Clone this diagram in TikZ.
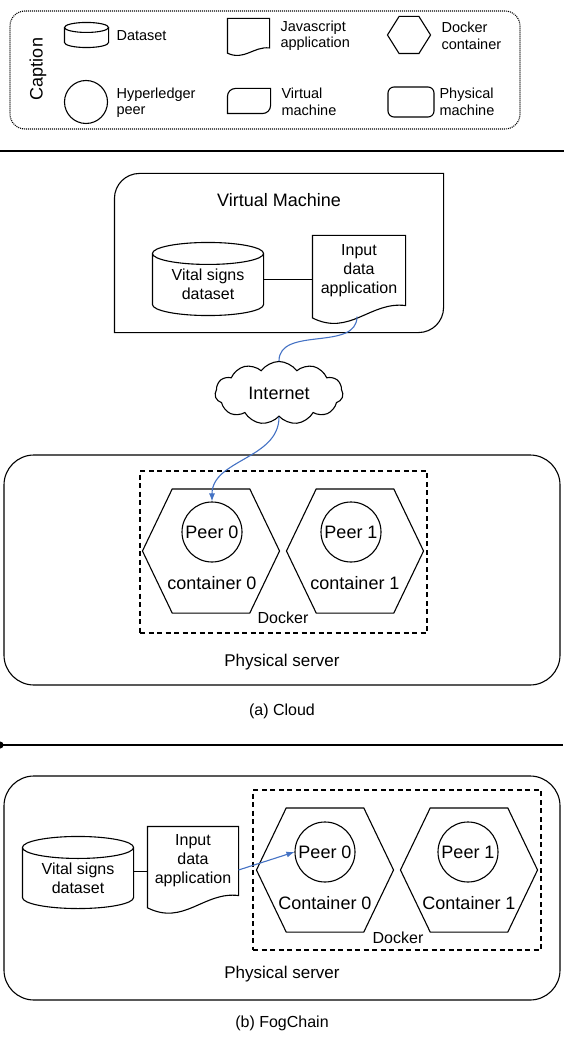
\documentclass[tikz,border=0pt]{standalone}
\usepackage{fontspec}
\setmainfont{Liberation Sans}
\usepackage{tikz}
\usetikzlibrary{calc}
\usetikzlibrary{arrows.meta}
\tikzset{>={Latex[length=8pt,width=6pt]}}
\usetikzlibrary{shapes.symbols}

\definecolor{linkblue}{RGB}{68,114,196}
\tikzset{
  txt/.style={font=\fontsize{16}{19}\selectfont, align=center},
  bigtxt/.style={font=\fontsize{18}{21}\selectfont, align=center},
  keytxt/.style={font=\fontsize{14.5}{16.5}\selectfont, align=left, anchor=west, inner sep=0pt},
  peer/.style={circle, draw, inner sep=0pt, minimum size=60pt, bigtxt},
  hexbox/.style={inner sep=0pt, minimum width=136pt, minimum height=123pt},
  server/.style={draw, rounded corners=30pt, minimum width=556pt},
  docker/.style={draw, dash pattern=on 5pt off 3.5pt},
  link/.style={draw=linkblue, line width=1.1pt},
}

\newcommand{\dbshape}[2]{%
  \draw let \p1=(#1.south west), \p2=(#1.north east), \n1={(\x2-\x1)/2} in
    (\x1,\y2) arc[start angle=180,end angle=360,x radius=\n1,y radius=#2]
    arc[start angle=0,end angle=180,x radius=\n1,y radius=#2]
    -- (\x1,\y1+#2) arc[start angle=180,end angle=360,x radius=\n1,y radius=#2] -- (\x2,\y2);}
\newcommand{\appshape}[1]{%
  \draw let \p1=(#1.south west), \p2=(#1.north east), \n1={\x2-\x1}, \n2={\y2-\y1} in
    (\x1,\y1-0.177*\n2) -- (\x1,\y2) -- (\x2,\y2) -- (\x2,\y1)
    .. controls (\x1+0.62*\n1,\y1+0.063*\n2) and (\x1+0.40*\n1,\y1-0.443*\n2) .. (\x1,\y1-0.177*\n2) -- cycle;}
\newcommand{\vmshape}[2]{%
  \draw let \p1=(#1.south west), \p2=(#1.north east) in
    (\x1,\y1) -- (\x1,\y2-#2) arc[start angle=180,end angle=90,radius=#2] -- (\x2,\y2)
    -- (\x2,\y1+#2) arc[start angle=0,end angle=-90,radius=#2] -- cycle;}
\newcommand{\hexshape}[2]{%
  \draw let \p1=(#1.south west), \p2=(#1.north east), \n1={#2*(\x2-\x1)} in
    (\x1,{(\y1+\y2)/2}) -- (\x1+\n1,\y2) -- (\x2-\n1,\y2) -- (\x2,{(\y1+\y2)/2})
    -- (\x2-\n1,\y1) -- (\x1+\n1,\y1) -- cycle;}

\begin{document}
\begin{tikzpicture}[x=1pt,y=-1pt,line width=1.1pt]
\useasboundingbox (0,0) rectangle (564,1040);

\node[draw, dash pattern=on 1pt off 1pt, rounded corners=15pt, minimum width=510pt, minimum height=118pt] (legend) at (265,70) {};
\node[bigtxt, rotate=90] (legendtitle) at (38,69) {Caption};
\node[inner sep=0pt, minimum width=43pt, minimum height=19pt] (keydb) at (86.5,37.5) {};
\dbshape{keydb}{5pt}
\node[keytxt] (keydbtxt) at (116,36) {Dataset};
\node[circle, draw, inner sep=0pt, minimum size=43pt] (keypeer) at (86,102) {};
\node[keytxt] (keypeertxt) at (116,103) {Hyperledger\\peer};
\node[inner sep=0pt, minimum width=41pt, minimum height=28.4pt] (keyapp) at (248.5,33.2) {};
\appshape{keyapp}
\node[keytxt] (keyapptxt) at (280,36) {Javascript\\application};
\node[inner sep=0pt, minimum width=42pt, minimum height=24pt] (keyvm) at (249,101) {};
\vmshape{keyvm}{8pt}
\node[keytxt] (keyvmtxt) at (281,102) {Virtual\\machine};
\node[inner sep=0pt, minimum width=42pt, minimum height=36pt] (keyhex) at (409,35) {};
\hexshape{keyhex}{0.27}
\node[keytxt] (keyhextxt) at (441,36) {Docker\\container};
\node[draw, rounded corners=6pt, minimum width=46pt, minimum height=30pt] (keyphys) at (411,102) {};
\node[keytxt] (keyphystxt) at (439,102) {Physical\\machine};

\coordinate (sepal) at (0,151);
\coordinate (separ) at (564,151);
\draw[line width=1.6pt] (sepal) -- (separ);

\node[inner sep=0pt, minimum width=328pt, minimum height=158pt] (vm) at (279,253) {};
\vmshape{vm}{25pt}
\node[bigtxt] (vmtitle) at (279,200) {Virtual Machine};
\node[txt, inner sep=0pt, minimum width=110pt, minimum height=61pt] (db) at (208,284.5) {Vital signs\\dataset};
\dbshape{db}{11pt}
\node[txt, inner sep=0pt, minimum width=92pt, minimum height=69pt] (app) at (359,270.5) {Input\\data\\application};
\appshape{app}
\coordinate (dblink) at ($(db.east)+(0,-5)$);
\draw[line width=0.8pt] (dblink) -- (dblink -| app.west);

\node[cloud, draw, cloud puffs=11, cloud puff arc=110, cloud ignores aspect, inner sep=0pt, minimum width=128pt, minimum height=63pt, bigtxt] (net) at (279,393) {Internet};

\node[server, minimum height=230pt] (srv) at (282,570) {};
\node[docker, minimum width=287pt, minimum height=162pt] (dock) at (283.5,552) {};
\node[hexbox] (hex0) at (211,551) {};
\hexshape{hex0}{0.217}
\node[hexbox] (hex1) at (355,551) {};
\hexshape{hex1}{0.217}
\node[peer] (peer0) at (212,532) {Peer 0};
\node[peer] (peer1) at (351,532) {Peer 1};
\node[bigtxt] (cont0) at (212,583) {container 0};
\node[bigtxt] (cont1) at (355,583) {container 1};
\node[txt] (docklbl) at (283,618) {Docker};
\node[font=\fontsize{17}{20}\selectfont] (srvlbl) at (282,662) {Physical server};
\node[txt] (capa) at (282,711) {(a) Cloud};

\coordinate (appout) at ($(app.south)+(-2,11)$);
\draw[link] (appout) to[out=-90,in=90] (net.north);
\draw[link,->] (net.south) to[out=-90,in=90] (peer0.north);

\coordinate (sepbl) at (-3.5,745);
\coordinate (sepbr) at (563,745);
\draw[line width=1.3pt, {Circle[length=7pt]}-{Square[length=2.5pt]}] (sepbl) -- (sepbr);

\node[server, minimum height=224pt] (srvb) at (282,888) {};
\node[txt, inner sep=0pt, minimum width=110pt, minimum height=60pt] (dbb) at (78,878) {Vital signs\\dataset};
\dbshape{dbb}{11pt}
\node[txt, inner sep=0pt, minimum width=90pt, minimum height=68pt] (appb) at (193,861) {Input\\data\\application};
\appshape{appb}
\coordinate (dbblink) at ($(dbb.east)+(0,-7)$);
\draw[line width=0.8pt] (dbblink) -- (dbblink -| appb.west);
\node[docker, minimum width=288pt, minimum height=160pt] (dockb) at (397,870) {};
\node[hexbox] (hexb0) at (325,870) {};
\hexshape{hexb0}{0.217}
\node[hexbox] (hexb1) at (469,870) {};
\hexshape{hexb1}{0.217}
\node[peer] (peerb0) at (325,852) {Peer 0};
\node[peer] (peerb1) at (468,852) {Peer 1};
\node[bigtxt] (contb0) at (325,903) {Container 0};
\node[bigtxt] (contb1) at (469,903) {Container 1};
\node[txt] (docklblb) at (398,938) {Docker};
\node[font=\fontsize{17}{20}\selectfont] (srvlblb) at (282,974) {Physical server};
\node[txt] (capb) at (282,1023) {(b) FogChain};
\draw[link,->] (appb.east |- hexb0.west) -- (peerb0.west);
\end{tikzpicture}
\end{document}
